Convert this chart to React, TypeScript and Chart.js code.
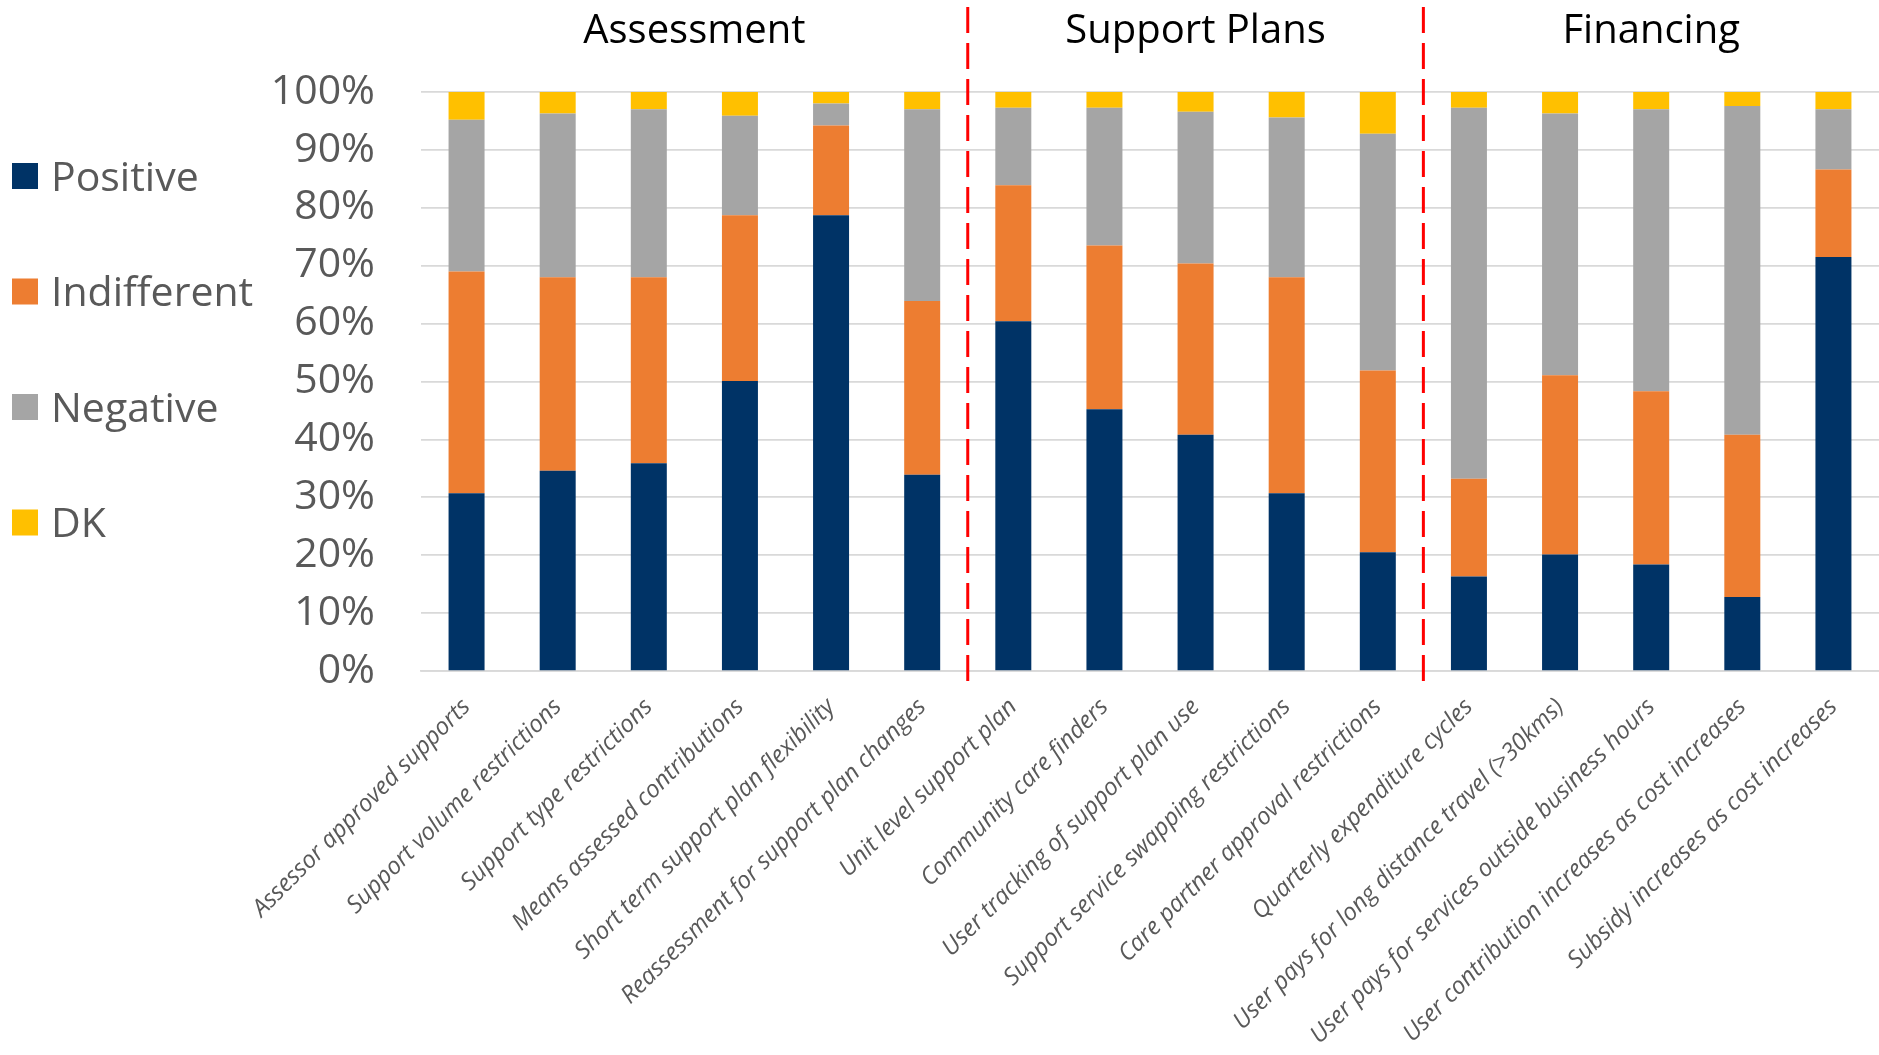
import React, { useEffect, useRef } from "react";
import { Chart, registerables } from "chart.js";

Chart.register(...registerables);

const categories = [
  "Assessor approved supports",
  "Support volume restrictions",
  "Support type restrictions",
  "Means assessed contributions",
  "Short term support plan flexibility",
  "Reassessment for support plan changes",
  "Unit level support plan",
  "Community care finders",
  "User tracking of support plan use",
  "Support service swapping restrictions",
  "Care partner approval restrictions",
  "Quarterly expenditure cycles",
  "User pays for long distance travel (>30kms)",
  "User pays for services outside business hours",
  "User contribution increases as cost increases",
  "Subsidy increases as cost increases",
];

const positive = [30.7, 34.6, 35.9, 50.1, 78.7, 33.9, 60.4, 45.2, 40.8, 30.7, 20.5, 16.3, 20.1, 18.4, 12.8, 71.5];
const indifferent = [38.3, 33.4, 32.1, 28.6, 15.5, 30.0, 23.5, 28.3, 29.6, 37.3, 31.4, 16.9, 31.0, 29.9, 28.0, 15.1];
const negative = [26.2, 28.3, 29.0, 17.2, 3.8, 33.1, 13.4, 23.8, 26.2, 27.6, 40.9, 64.1, 45.2, 48.7, 56.8, 10.4];
const dk = [4.8, 3.7, 3.0, 4.1, 2.0, 3.0, 2.7, 2.7, 3.4, 4.4, 7.2, 2.7, 3.7, 3.0, 2.4, 3.0];

const seriesNames = ["Positive", "Indifferent", "Negative", "DK"];
const seriesColors = ["#003366", "#ED7D31", "#A5A5A5", "#FFC000"];

const groupTitles = ["Assessment", "Support Plans", "Financing"];
const groupSizes = [6, 5, 5];

const FONT = "'Open Sans', 'Noto Sans', sans-serif";

const overlayPlugin = {
  id: "overlay",
  afterDraw(chart: any) {
    const ctx = chart.ctx;
    const xs = chart.scales.x;
    ctx.save();
    // group titles and dividers
    let start = 0;
    groupSizes.forEach((size, gi) => {
      const end = start + size - 1;
      const cx = (xs.getPixelForValue(start) + xs.getPixelForValue(end)) / 2;
      ctx.fillStyle = "#000000";
      ctx.font = `40px ${FONT}`;
      ctx.textAlign = "center";
      ctx.textBaseline = "alphabetic";
      ctx.fillText(groupTitles[gi], cx, 43);
      if (gi < groupSizes.length - 1) {
        const dx = (xs.getPixelForValue(end) + xs.getPixelForValue(end + 1)) / 2;
        ctx.strokeStyle = "#FF0000";
        ctx.lineWidth = 3;
        ctx.setLineDash([26, 10]);
        ctx.beginPath();
        ctx.moveTo(dx, 7);
        ctx.lineTo(dx, 688);
        ctx.stroke();
        ctx.setLineDash([]);
      }
      start += size;
    });
    // legend
    chart.data.datasets.forEach((ds: any, i: number) => {
      const cy = 176 + i * 115.5;
      ctx.fillStyle = ds.backgroundColor;
      ctx.fillRect(12, cy - 13, 26, 26);
      ctx.fillStyle = "#595959";
      ctx.font = `41px ${FONT}`;
      ctx.textAlign = "left";
      ctx.textBaseline = "alphabetic";
      ctx.fillText(ds.label, 51, cy + 14.5);
    });
    ctx.restore();
  },
};

export default function App() {
  const ref = useRef<HTMLCanvasElement>(null);

  useEffect(() => {
    if (!ref.current) return;
    const datasets = [positive, indifferent, negative, dk].map((vals, i) => ({
      label: seriesNames[i],
      data: vals,
      backgroundColor: seriesColors[i],
      borderWidth: 0,
      barPercentage: 0.395,
      categoryPercentage: 1,
    }));
    const chart = new Chart(ref.current, {
      type: "bar",
      data: { labels: categories, datasets },
      options: {
        animation: false,
        responsive: true,
        maintainAspectRatio: false,
        layout: { padding: { top: 92, left: 0, right: 0, bottom: 0 } },
        plugins: {
          legend: { display: false },
          tooltip: { enabled: false },
          title: { display: false },
        },
        scales: {
          x: {
            stacked: true,
            grid: { display: false, drawTicks: false },
            border: { display: true, color: "#D9D9D9", width: 1.75 },
            ticks: {
              autoSkip: false,
              maxRotation: 45,
              minRotation: 45,
              padding: 22,
              color: "#595959",
              font: { family: FONT, size: 24, style: "italic" },
            },
            afterFit: (scale: any) => {
              scale.height = 384;
            },
          },
          y: {
            stacked: true,
            min: 0,
            max: 100,
            grid: { color: "#D9D9D9", lineWidth: 1.75, drawTicks: false },
            border: { display: false },
            ticks: {
              stepSize: 10,
              padding: 46,
              color: "#595959",
              font: { family: FONT, size: 41 },
              callback: (v: any) => `${v}%`,
            },
            afterFit: (scale: any) => {
              scale.width = 421;
            },
          },
        },
      },
      plugins: [overlayPlugin],
    });
    return () => chart.destroy();
  }, []);

  return (
    <div style={{ position: "fixed", left: 0, top: 0, width: 1879, height: 1055, background: "#ffffff" }}>
      <canvas ref={ref} />
    </div>
  );
}
